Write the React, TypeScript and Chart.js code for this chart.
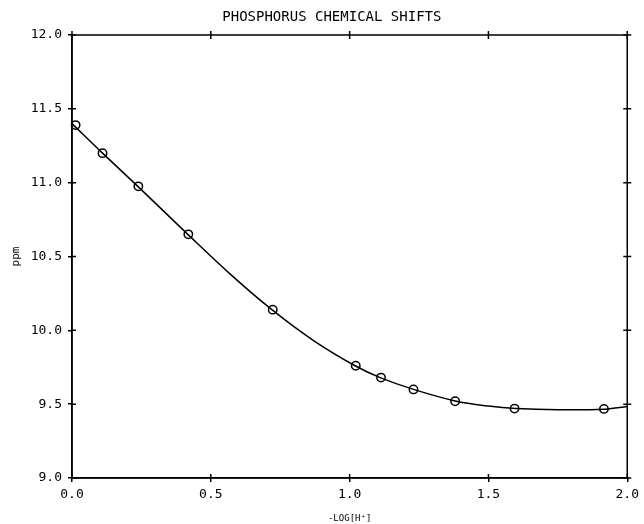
import React, { useEffect, useRef } from "react";
import { Chart, registerables } from "chart.js";

Chart.register(...registerables);

const chartTitle = "    PHOSPHORUS CHEMICAL SHIFTS";
const xAxisTitle = "-LOG[H\u207A]";
const yAxisTitle = "ppm";

// measured points: -log[H+] and chemical shift (ppm)
const pointX = [0.013, 0.11, 0.239, 0.419, 0.723, 1.022, 1.113, 1.23, 1.38, 1.594, 1.916];
const pointY = [11.39, 11.2, 10.975, 10.65, 10.14, 9.76, 9.68, 9.6, 9.52, 9.47, 9.468];

// fitted curve
const fitX = [0, 0.11, 0.24, 0.42, 0.57, 0.72, 0.87, 1.02, 1.11, 1.23, 1.38, 1.5, 1.6, 1.75, 1.92, 2.0];
const fitY = [11.4, 11.2, 10.97, 10.645, 10.381, 10.14, 9.931, 9.76, 9.68, 9.6, 9.522, 9.487, 9.47, 9.462, 9.466, 9.484];

const xMin = 0, xMax = 2, xStep = 0.5;
const yMin = 9, yMax = 12, yStep = 0.5;

const MONO = "'DejaVu Sans Mono', 'Liberation Mono', monospace";

const framePlugin = {
  id: "frame",
  afterDatasetsDraw(chart: any) {
    const { ctx, chartArea } = chart;
    const { left, right, top, bottom } = chartArea;
    const xs = chart.scales.x;
    const ys = chart.scales.y;
    ctx.save();
    ctx.strokeStyle = "#000";
    ctx.lineWidth = 1.5;
    ctx.strokeRect(left, top, right - left, bottom - top);
    ctx.beginPath();
    xs.ticks.forEach((t: any) => {
      const px = xs.getPixelForValue(t.value);
      ctx.moveTo(px, bottom);
      ctx.lineTo(px, bottom - 4);
      ctx.moveTo(px, top - 4);
      ctx.lineTo(px, top + 4);
    });
    ys.ticks.forEach((t: any) => {
      const py = ys.getPixelForValue(t.value);
      ctx.moveTo(left, py);
      ctx.lineTo(left + 4, py);
      ctx.moveTo(right - 4, py);
      ctx.lineTo(right + 4, py);
    });
    ctx.stroke();
    ctx.restore();
  },
};

export default function App() {
  const ref = useRef<HTMLCanvasElement | null>(null);

  useEffect(() => {
    if (!ref.current) return;
    const chart = new Chart(ref.current, {
      type: "scatter",
      data: {
        datasets: [
          {
            label: "data",
            data: pointX.map((x, i) => ({ x, y: pointY[i] })),
            pointStyle: "circle",
            pointRadius: 4.2,
            pointBorderWidth: 1.5,
            pointBorderColor: "#000",
            pointBackgroundColor: "rgba(0,0,0,0)",
            showLine: false,
            clip: false,
            order: 0,
          } as any,
          {
            label: "fit",
            data: fitX.map((x, i) => ({ x, y: fitY[i] })),
            showLine: true,
            pointRadius: 0,
            borderColor: "#000",
            borderWidth: 1.5,
            tension: 0.35,
            order: 1,
          } as any,
        ],
      },
      options: {
        animation: false,
        responsive: true,
        maintainAspectRatio: false,
        layout: { padding: { left: 0, right: 14, top: 0, bottom: 0 } },
        plugins: {
          legend: { display: false },
          tooltip: { enabled: false },
          title: {
            display: true,
            text: chartTitle,
            color: "#000",
            font: { family: MONO, size: 14, weight: "normal" },
            padding: { top: 8.6, bottom: 9.6 },
          },
        },
        scales: {
          x: {
            type: "linear",
            min: xMin,
            max: xMax,
            ticks: {
              stepSize: xStep,
              color: "#000",
              font: { family: MONO, size: 13 },
              padding: 5,
              maxRotation: 0,
              callback: (v: any) => Number(v).toFixed(1),
            },
            grid: { display: true, drawOnChartArea: false, drawTicks: true, tickLength: 4, color: "#000", lineWidth: 1.5 },
            border: { display: true, color: "#000", width: 1.5 },
            title: {
              display: true,
              text: xAxisTitle,
              color: "#000",
              font: { family: MONO, size: 9 },
              padding: { top: 0, bottom: 0 },
            },
            afterFit: (s: any) => { s.height = 46; },
          },
          y: {
            type: "linear",
            min: yMin,
            max: yMax,
            ticks: {
              stepSize: yStep,
              color: "#000",
              font: { family: MONO, size: 13 },
              padding: 6,
              callback: (v: any) => Number(v).toFixed(1),
            },
            grid: { display: true, drawOnChartArea: false, drawTicks: true, tickLength: 4, color: "#000", lineWidth: 1.5 },
            border: { display: true, color: "#000", width: 1.5 },
            title: {
              display: true,
              text: yAxisTitle,
              color: "#000",
              font: { family: MONO, size: 11 },
              padding: { top: 10, bottom: 0 },
            },
            afterFit: (s: any) => { s.width = 72; },
          },
        },
      },
      plugins: [framePlugin],
    } as any);
    return () => chart.destroy();
  }, []);

  return (
    <div style={{ position: "fixed", left: 0, top: 0, width: 644, height: 524, background: "#fff" }}>
      <canvas ref={ref} />
    </div>
  );
}
